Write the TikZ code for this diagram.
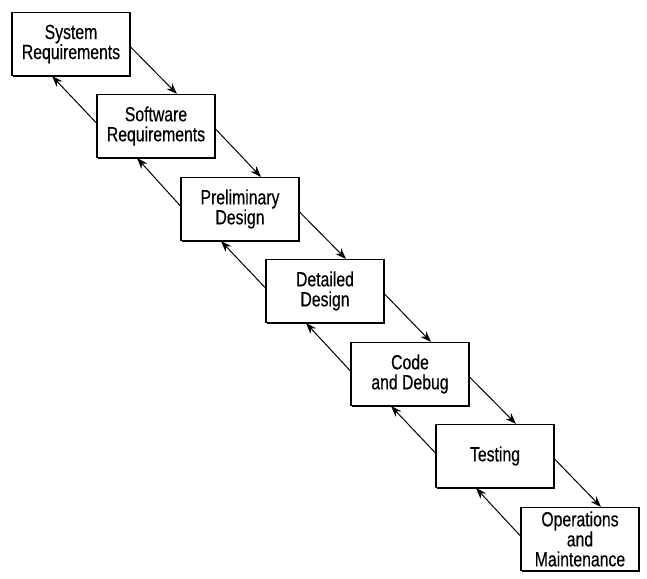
\documentclass[tikz,border=0pt]{standalone}
\usepackage{fontspec}
\newfontfamily\narrowfont[FakeStretch=0.77,FakeBold=0.4]{Liberation Sans}
\usepackage{tikz}
\usetikzlibrary{arrows.meta,shadows}

\begin{document}
\begin{tikzpicture}[x=1pt,y=-1pt]
  \tikzset{phase/.style={draw,line width=1.1pt,fill=white,minimum width=118pt,minimum height=63pt,inner sep=0pt,
      align=center,font=\narrowfont\fontsize{20.5}{20}\selectfont,
      drop shadow={shadow xshift=1.2pt,shadow yshift=-1.2pt,fill=black,opacity=1}},
    flow/.style={line width=1pt,-{Stealth[length=11pt,width=8pt]}}};
  \useasboundingbox (0,0) rectangle (647,578);
  \node[phase] (SR) at (71,44) {System\\Requirements};
  \node[phase] (SW) at (156,126) {Software\\Requirements};
  \node[phase] (PD) at (240,209) {Preliminary\\Design};
  \node[phase] (DD) at (325,291) {Detailed\\Design};
  \node[phase] (CD) at (410,374) {Code\\and Debug};
  \node[phase] (TS) at (495,456) {Testing};
  \node[phase] (OM) at (580,539) {Operations\\and\\Maintenance};
  % down the waterfall
  \draw[flow] ([yshift=-3pt]SR.east) -- ([xshift=21pt]SW.north);
  \draw[flow] ([yshift=-3pt]SW.east) -- ([xshift=21pt]PD.north);
  \draw[flow] ([yshift=-3pt]PD.east) -- ([xshift=21pt]DD.north);
  \draw[flow] ([yshift=-3pt]DD.east) -- ([xshift=21pt]CD.north);
  \draw[flow] ([yshift=-3pt]CD.east) -- ([xshift=21pt]TS.north);
  \draw[flow] ([yshift=-3pt]TS.east) -- ([xshift=21pt]OM.north);
  % back up
  \draw[flow] ([yshift=3pt]SW.west) -- ([xshift=-19pt]SR.south);
  \draw[flow] ([yshift=3pt]PD.west) -- ([xshift=-19pt]SW.south);
  \draw[flow] ([yshift=3pt]DD.west) -- ([xshift=-19pt]PD.south);
  \draw[flow] ([yshift=3pt]CD.west) -- ([xshift=-19pt]DD.south);
  \draw[flow] ([yshift=3pt]TS.west) -- ([xshift=-19pt]CD.south);
  \draw[flow] ([yshift=3pt]OM.west) -- ([xshift=-19pt]TS.south);
\end{tikzpicture}
\end{document}
